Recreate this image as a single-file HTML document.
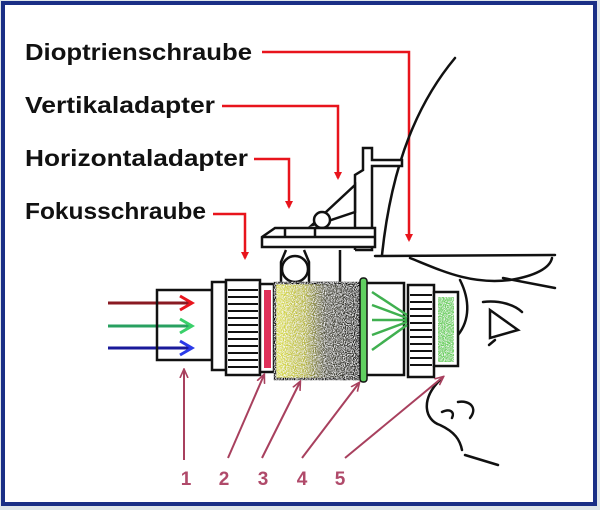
<!DOCTYPE html><html><head><meta charset="utf-8"><style>html,body{margin:0;padding:0;background:#fff}svg{display:block}</style></head><body>
<svg width="600" height="510" viewBox="0 0 600 510" xmlns="http://www.w3.org/2000/svg">
<defs>
<linearGradient id="sp" x1="0" x2="1" y1="0" y2="0"><stop offset="0" stop-color="#e0e250"/><stop offset="0.35" stop-color="#b8b840"/><stop offset="0.6" stop-color="#555545"/><stop offset="1" stop-color="#222"/></linearGradient>
<filter id="nz"><feTurbulence type="fractalNoise" baseFrequency="0.9" numOctaves="1" result="n"/><feColorMatrix in="n" type="matrix" values="0 0 0 0 1 0 0 0 0 1 0 0 0 0 1 0 0 0 -3 1.75" result="w"/><feComposite in="w" in2="SourceGraphic" operator="in" result="wm"/><feMerge><feMergeNode in="SourceGraphic"/><feMergeNode in="wm"/></feMerge></filter>
<marker id="ar" markerWidth="8" markerHeight="8" refX="6" refY="4" orient="auto" markerUnits="userSpaceOnUse"><path d="M0,0L8,4L0,8z" fill="#e8141c"/></marker>
<marker id="ap" markerWidth="10" markerHeight="10" refX="8" refY="5" orient="auto" markerUnits="userSpaceOnUse"><path d="M0,1L9,5L0,9" fill="none" stroke="#a8405e" stroke-width="1.6"/></marker>
</defs>
<rect x="0" y="0" width="600" height="510" fill="#dfe6ea"/>
<rect x="3" y="3" width="592" height="501" fill="#fff" stroke="#1a2f86" stroke-width="4"/>
<g font-family="Liberation Sans, sans-serif" font-weight="bold" font-size="23" fill="#111">
<text x="25" y="60" textLength="227" lengthAdjust="spacingAndGlyphs">Dioptrienschraube</text>
<text x="25" y="113" textLength="190" lengthAdjust="spacingAndGlyphs">Vertikaladapter</text>
<text x="25" y="166" textLength="223" lengthAdjust="spacingAndGlyphs">Horizontaladapter</text>
<text x="25" y="219" textLength="181" lengthAdjust="spacingAndGlyphs">Fokusschraube</text>
</g>
<g stroke="#e8141c" stroke-width="2.5" fill="none">
<path d="M262,52H409V240" marker-end="url(#ar)"/>
<path d="M222,106H338V178" marker-end="url(#ar)"/>
<path d="M254,159H289V207" marker-end="url(#ar)"/>
<path d="M213,214H245V258" marker-end="url(#ar)"/>
</g>
<g stroke="#111" stroke-width="2.5" fill="none" stroke-linecap="round">
<path d="M455,58C420,100 392,160 382,255"/>
<path d="M375,256L555,255"/>
<path d="M410,258C440,270 470,285 510,280C535,276 550,268 552,258"/>
<path d="M503,278L555,288"/>
<path d="M460,280C470,300 470,320 458,335"/>
<path d="M483,302C500,300 515,305 522,312"/>
<path d="M490,310L490,338L518,330Z"/>
<path d="M489,345L495,340"/>
<path d="M440,380C420,400 425,420 440,425C455,432 460,440 462,450"/>
<path d="M458,402C470,400 478,408 470,418"/>
<path d="M442,412C450,408 455,412 452,418"/>
<path d="M465,455L498,465"/>
</g>
<g stroke="#111" stroke-width="2.5" fill="#fff">
<path d="M340,250V283H312" fill="none"/>
<path d="M355,250V175L363,170V148H372V160H402V166H372V250H355"/>
<path d="M312,225L355,185L355,212L325,222Z"/>
<circle cx="322" cy="220" r="8"/>
<path d="M262,247L262,237L275,228L375,228L375,247Z"/>
<line x1="262" y1="237" x2="375" y2="237"/>
<line x1="285" y1="228" x2="285" y2="237"/><line x1="315" y1="228" x2="315" y2="237"/>
<circle cx="295" cy="269" r="13"/>
<path d="M281,283V262L286,250M309,283V262L304,250" fill="none"/>
</g>
<g stroke-width="3" fill="none">
<path d="M108,303H190" stroke="#8a1a22"/><path d="M180,296L192,303L180,310" stroke="#e8141c"/>
<path d="M108,326H190" stroke="#28a060"/><path d="M180,319L192,326L180,333" stroke="#3ad06a"/>
<path d="M108,348H190" stroke="#1a1a9a"/><path d="M180,341L192,348L180,355" stroke="#2a3ae8"/>
</g>
<g stroke="#111" stroke-width="2.5">
<path d="M157,290H212V360H157Z" fill="none"/>
<rect x="212" y="282" width="14" height="88" fill="#fff"/>
<rect x="226" y="280" width="34" height="95" fill="#fff"/>
<rect x="260" y="284" width="14" height="88" fill="#fff"/>
<rect x="264" y="290" width="7" height="78" fill="#e0305a" stroke="none"/>
<rect x="275" y="283" width="84" height="96" fill="url(#sp)" filter="url(#nz)"/>
<rect x="366" y="283" width="38" height="92" fill="#fff"/>
<rect x="408" y="285" width="26" height="92" fill="#fff"/>
<rect x="434" y="292" width="24" height="74" fill="#fff"/>
<rect x="438" y="297" width="16" height="65" fill="#6cd060" stroke="none" filter="url(#nz)"/>
</g>
<rect x="360" y="278" width="7" height="104" rx="3" fill="#60d060" stroke="#111" stroke-width="1.5"/>
<g stroke="#111" stroke-width="2">
<path d="M228,290H258M228,297H258M228,304H258M228,311H258M228,318H258M228,325H258M228,332H258M228,339H258M228,346H258M228,353H258M228,360H258M228,367H258"/>
<path d="M410,295H432M410,302H432M410,309H432M410,316H432M410,323H432M410,330H432M410,337H432M410,344H432M410,351H432M410,358H432M410,365H432"/>
</g>
<g stroke="#40b050" stroke-width="2.5">
<path d="M372,292L407,315M372,305L407,318M372,320H407M372,335L407,322M372,350L407,325"/>
</g>
<g stroke="#a8405e" stroke-width="2" fill="none">
<path d="M184,460V370" marker-end="url(#ap)"/>
<path d="M228,458L264,375" marker-end="url(#ap)"/>
<path d="M262,458L300,382" marker-end="url(#ap)"/>
<path d="M302,458L359,383" marker-end="url(#ap)"/>
<path d="M345,458L443,377" marker-end="url(#ap)"/>
</g>
<g font-family="Liberation Sans, sans-serif" font-weight="bold" font-size="19" fill="#b04a6a" text-anchor="middle">
<text x="186" y="485">1</text><text x="224" y="485">2</text><text x="263" y="485">3</text><text x="302" y="485">4</text><text x="340" y="485">5</text>
</g>
</svg>
</body></html>
